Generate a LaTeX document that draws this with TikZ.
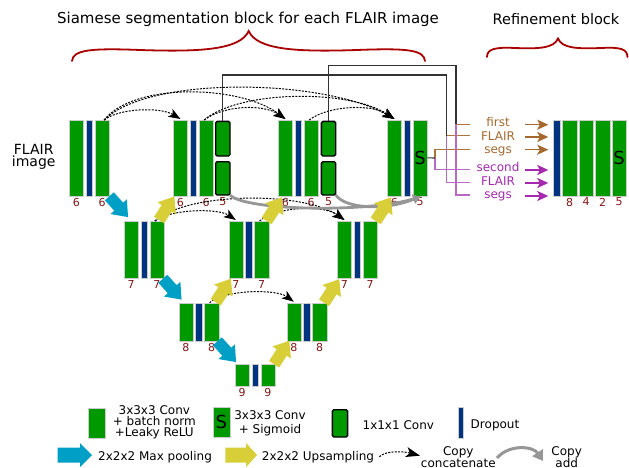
\documentclass[tikz,border=0pt]{standalone}
\usepackage{fontspec}
\setmainfont{DejaVu Sans}
\usetikzlibrary{arrows.meta,calc}
\definecolor{gr}{RGB}{0,153,0}
\definecolor{bl}{RGB}{0,51,128}
\definecolor{cy}{RGB}{0,160,198}
\definecolor{ye}{RGB}{216,206,56}
\definecolor{dr}{RGB}{135,20,20}
\definecolor{brc}{RGB}{170,0,0}
\definecolor{bn}{RGB}{165,105,45}
\definecolor{bnl}{RGB}{175,115,60}
\definecolor{pu}{RGB}{165,40,175}
\definecolor{pl}{RGB}{185,105,195}
\definecolor{gy}{RGB}{150,150,150}
\definecolor{dk}{RGB}{50,50,50}
\tikzset{
  gbk/.style={fill=gr, draw=black!20, line width=0.4pt, inner sep=0pt, outer sep=0pt, anchor=north west},
  dbk/.style={fill=bl, draw=black!20, line width=0.4pt, inner sep=0pt, outer sep=0pt, anchor=north west},
  cbk/.style={fill=gr, draw=black, line width=1.4pt, rounded corners=1.5pt, inner sep=0pt, outer sep=0pt, anchor=north west},
  lab/.style={text=dr, font=\fontsize{11}{11}\selectfont, inner sep=0pt, anchor=north},
  stxt/.style={font=\fontsize{18}{18}\selectfont, inner sep=0pt},
  ttl/.style={font=\fontsize{15}{15}\selectfont, inner sep=0pt},
  ttlb/.style={font=\fontsize{14.5}{14.5}\selectfont, inner sep=0pt},
  ltxt/.style={font=\fontsize{12}{13}\selectfont, inner sep=0pt, align=center},
  rtb/.style={text=bn, font=\fontsize{12}{12}\selectfont, inner sep=0pt, text height=8.8pt, text depth=2.8pt},
  rtp/.style={text=pu, font=\fontsize{12}{12}\selectfont, inner sep=0pt, text height=8.8pt, text depth=2.8pt},
  brace/.style={draw=brc, line width=1.8pt, line cap=round},
  dkl/.style={draw=dk, line width=1.1pt},
  bnline/.style={draw=bnl, line width=1.1pt},
  puline/.style={draw=pl, line width=1.1pt},
  bnarr/.style={draw=bn, line width=1.5pt, -{Stealth[length=11pt,width=10pt,inset=2.5pt]}, shorten >=5pt},
  puarr/.style={draw=pu, line width=1.5pt, -{Stealth[length=11pt,width=10pt,inset=2.5pt]}, shorten >=5pt},
  dotarr/.style={draw=black, line width=1pt, dash pattern=on 2pt off 1.3pt, -{Stealth[length=12pt,width=9pt,inset=3pt]}},
  dotarrl/.style={draw=black, line width=1pt, dash pattern=on 2pt off 1.3pt, -{Stealth[length=14pt,width=10pt,inset=3.5pt]}},
  gyarr/.style={draw=gy, line width=2.8pt, -{Triangle[length=7pt,width=9pt]}},
  gyarrl/.style={draw=gy, line width=3pt, -{Triangle[length=10pt,width=12pt]}},
  fatd/.pic={\path[pic actions] (-14,-6) -- (0,-6) -- (0,-11) -- (14,0) -- (0,11) -- (0,6) -- (-14,6) -- cycle;},
  fatl/.pic={\path[pic actions] (-17,-7.5) -- (5.5,-7.5) -- (5.5,-12) -- (17.5,0) -- (5.5,12) -- (5.5,7.5) -- (-17,7.5) -- cycle;}
}
\newcommand\grp[4]{%
  \node[gbk, minimum width=14.3pt, minimum height=#4pt] (#1a) at (#2,#3) {};
  \node[dbk, minimum width=6.5pt, minimum height=#4pt] (#1d) at ({#2+16.7},#3) {};
  \node[gbk, minimum width=14.3pt, minimum height=#4pt] (#1b) at ({#2+25.7},#3) {};
}
\newcommand\lb[3]{\node[lab] (#1) at ([yshift=-2pt]#2.south) {#3};}
\begin{document}
\begin{tikzpicture}[x=1pt,y=-1pt]
\useasboundingbox (0,0) rectangle (629,468);

% titles
\node[ttl] (title1) at (248,19.5) {Siamese segmentation block for each FLAIR image};
\node[ttlb] (title2) at (556,19.5) {Refinement block};

% braces
\draw[brace] (72,61) .. controls (73,50) and (90,48) .. (140,50) .. controls (200,52) and (240,50) .. (248.7,31) .. controls (257,50) and (297,52) .. (357,50) .. controls (408,48) and (424,50) .. (425,61);
\draw[brace] (487,57) .. controls (487,49) and (495,47) .. (515,48) .. controls (540,49) and (554,48) .. (558,38.5) .. controls (562,48) and (576,49) .. (601,48) .. controls (621,47) and (627,49) .. (627.5,57);

% input label
\node[font=\fontsize{14}{12.6}\selectfont, inner sep=0pt, align=center] (flair) at (33.7,157) {FLAIR\\image};

% level 0
\grp{g1}{69.3}{120}{75.7}
\grp{g2}{173.3}{120}{75.7}
\grp{g3}{278.3}{120}{75.7}
\grp{g4}{387.3}{120}{75.7}
\node[cbk, minimum width=14.3pt, minimum height=34.6pt] (g2c1) at (215.7,121.4) {};
\node[cbk, minimum width=14.3pt, minimum height=33.3pt] (g2c2) at (215.7,161.7) {};
\node[cbk, minimum width=14.3pt, minimum height=34.6pt] (g3c1) at (321.4,121.4) {};
\node[cbk, minimum width=14.3pt, minimum height=33.3pt] (g3c2) at (321.4,161.7) {};
\node[stxt] (g4s) at (g4b) {S};

% level 1
\grp{h1}{124}{221}{57}
\grp{h2}{228.7}{221}{57}
\grp{h3}{337.3}{221}{57}
% level 2
\grp{k1}{178.7}{302.7}{38}
\grp{k2}{286.7}{302.7}{38}
% level 3
\grp{m1}{235}{364.3}{21.7}

% refinement block
\node[dbk, minimum width=6.7pt, minimum height=75.7pt] (rb) at (553.3,120) {};
\node[gbk, minimum width=14.4pt, minimum height=75.7pt] (r1) at (562.3,120) {};
\node[gbk, minimum width=14.4pt, minimum height=75.7pt] (r2) at (579,120) {};
\node[gbk, minimum width=14.4pt, minimum height=75.7pt] (r3) at (595.3,120) {};
\node[gbk, minimum width=14.4pt, minimum height=75.7pt] (r4) at (612,120) {};
\node[stxt] (r4s) at (r4) {S};

% channel labels
\lb{l01}{g1a}{6}\lb{l02}{g1b}{6}
\lb{l03}{g2a}{6}\lb{l04}{g2b}{6}\lb{l05}{g2c2}{5}
\lb{l06}{g3a}{6}\lb{l07}{g3b}{6}\lb{l08}{g3c2}{5}
\lb{l09}{g4a}{6}\lb{l10}{g4b}{5}
\lb{l11}{h1a}{7}\lb{l12}{h1b}{7}
\lb{l13}{h2a}{7}\lb{l14}{h2b}{7}
\lb{l15}{h3a}{7}\lb{l16}{h3b}{7}
\lb{l17}{k1a}{8}\lb{l18}{k1b}{8}
\lb{l19}{k2a}{8}\lb{l20}{k2b}{8}
\lb{l21}{m1a}{9}\lb{l22}{m1b}{9}
\lb{l23}{r1}{8}\lb{l24}{r2}{4}\lb{l25}{r3}{2}\lb{l26}{r4}{5}

% copy-concatenate skip arrows
\draw[dotarr] ([xshift=2pt]g1b.north) .. controls +(15,-12) and +(-20,-12) .. ([yshift=1pt]g2a.north);
\draw[dotarr] ([xshift=2pt]g1b.north) .. controls +(30,-38) and +(-45,-34) .. ([yshift=1pt]g3a.north);
\draw[dotarr] ([xshift=2pt]g1b.north) .. controls +(45,-45) and +(-70,-40) .. ([yshift=1pt]g4a.north);
\draw[dotarr] ([xshift=-2pt]g2b.north) .. controls +(20,-15) and +(-22,-15) .. ([yshift=1pt]g3a.north);
\draw[dotarr] ([xshift=-2pt]g2b.north) .. controls +(35,-30) and +(-45,-30) .. ([yshift=1pt]g4a.north);
\draw[dotarr] ([xshift=-2pt]g3b.north) .. controls +(20,-15) and +(-22,-15) .. ([yshift=1pt]g4a.north);
\draw[dotarr] ([xshift=-2pt]h1b.north) .. controls +(15,-12) and +(-18,-12) .. ([yshift=1pt]h2a.north);
\draw[dotarr] ([xshift=-2pt]h1b.north) .. controls +(35,-30) and +(-40,-28) .. ([yshift=1pt]h3a.north);
\draw[dotarr] ([xshift=-2pt]h2b.north) .. controls +(18,-15) and +(-20,-15) .. ([yshift=1pt]h3a.north);
\draw[dotarr] ([xshift=-2pt]k1b.north) .. controls +(15,-13) and +(-18,-13) .. ([yshift=1pt]k2a.north);

% copy-add arrows
\draw[gyarr] (g2c2.south east) .. controls +(15,16) and +(-50,16) .. ([yshift=-1pt]g4b.south);
\draw[gyarr] (g3c2.south east) .. controls +(10,14) and +(-35,14) .. ([yshift=-1pt]g4b.south);

% max pooling arrows
\pic[fill=cy, rotate=-48] (p1) at (118.7,206.7) {fatd};
\pic[fill=cy, rotate=-48] (p2) at (172.2,289.2) {fatd};
\pic[fill=cy, rotate=-48] (p3) at (226.7,351.7) {fatd};
% upsampling arrows
\pic[fill=ye, rotate=57] (u1) at (281.7,352.5) {fatd};
\pic[fill=ye, rotate=57] (u2) at (223.3,290.5) {fatd};
\pic[fill=ye, rotate=57] (u3) at (331.7,291) {fatd};
\pic[fill=ye, rotate=57] (u4) at (166.7,208.3) {fatd};
\pic[fill=ye, rotate=57] (u5) at (274.2,209.2) {fatd};
\pic[fill=ye, rotate=57] (u6) at (383.3,209.2) {fatd};

% outputs to refinement block
\coordinate (t2) at (446.7,75);
\coordinate (v2) at (446.7,135.7);
\coordinate (t3) at (456,65.3);
\coordinate (v3) at (456,124.3);
\coordinate (sj) at (435,158);
\coordinate (b1) at (470,124.3);
\coordinate (b2) at (470,135.7);
\coordinate (b3) at (470,149.3);
\coordinate (p1e) at (470,169.3);
\coordinate (p2e) at (470,182.7);
\coordinate (p3e) at (470,195);
\draw[bnline] (v3) -- (b1);
\draw[bnline] (v2) -- (b2);
\draw[bnline] (sj) |- (b3);
\draw[puline] (sj) |- (p1e);
\draw[puline] (v2) |- (p2e);
\draw[puline] (v3) |- (p3e);
\draw[dkl] (g2c1.north) |- (t2) -- (v2);
\draw[dkl] (g3c1.north) |- (t3) -- (v3);
\draw[dkl] (g4b.east) -- (sj);

\node[rtb] (tf1) at (498,124) {first};
\node[rtb] (tf2) at (498,137.5) {FLAIR};
\node[rtb] (tf3) at (498,150.5) {segs};
\node[rtp] (ts1) at (498,168.3) {second};
\node[rtp] (ts2) at (498,182) {FLAIR};
\node[rtp] (ts3) at (498,195) {segs};

\coordinate (q1) at (525,124.7);
\coordinate (q2) at (525,137);
\coordinate (q3) at (525,149.7);
\coordinate (q4) at (525,170);
\coordinate (q5) at (525,183);
\coordinate (q6) at (525,196);
\draw[bnarr] (q1) -- (q1 -| rb.west);
\draw[bnarr] (q2) -- (q2 -| rb.west);
\draw[bnarr] (q3) -- (q3 -| rb.west);
\draw[puarr] (q4) -- (q4 -| rb.west);
\draw[puarr] (q5) -- (q5 -| rb.west);
\draw[puarr] (q6) -- (q6 -| rb.west);

% legend
\node[gbk, minimum width=16.7pt, minimum height=30pt] (lg1) at (88.3,408.3) {};
\node[ltxt, font=\fontsize{12}{10.8}\selectfont] (lt1) at (154.3,422.5) {3x3x3 Conv\\+ batch norm\\+Leaky ReLU};
\node[gbk, minimum width=17.3pt, minimum height=29.4pt] (lg2) at (212.7,407.3) {};
\node[stxt] (lg2s) at (lg2) {S};
\node[ltxt, font=\fontsize{12}{13.3}\selectfont] (lt2) at (270,423.3) {3x3x3 Conv\\+ Sigmoid};
\node[cbk, minimum width=15.2pt, minimum height=27.3pt] (lg3) at (332.4,409.7) {};
\node[ltxt] (lt3) at (398.3,425) {1x1x1 Conv};
\node[dbk, minimum width=5.6pt, minimum height=30.4pt] (lg4) at (457.7,407.3) {};
\node[ltxt] (lt4) at (495,425) {Dropout};

\pic[fill=cy] (lp1) at (74.5,455) {fatl};
\node[ltxt] (lt5) at (155,456.7) {2x2x2 Max pooling};
\pic[fill=ye, xscale=0.92] (lp2) at (241,455) {fatl};
\node[ltxt] (lt6) at (318,456.7) {2x2x2 Upsampling};
\coordinate (ld1) at (379.3,456.7);
\coordinate (ld2) at (420,455.7);
\draw[dotarrl] (ld1) .. controls +(8,-7) and +(-15,-4) .. (ld2);
\node[ltxt, font=\fontsize{12}{12.3}\selectfont] (lt7) at (458.3,457) {Copy\\concatenate};
\coordinate (lg1a) at (497,458);
\coordinate (lg2a) at (543,461);
\draw[gyarrl] (lg1a) .. controls +(12,-14) and +(-10,-15) .. (lg2a);
\node[ltxt, font=\fontsize{12}{12.3}\selectfont] (lt8) at (566.7,457) {Copy\\add};
\end{tikzpicture}
\end{document}
